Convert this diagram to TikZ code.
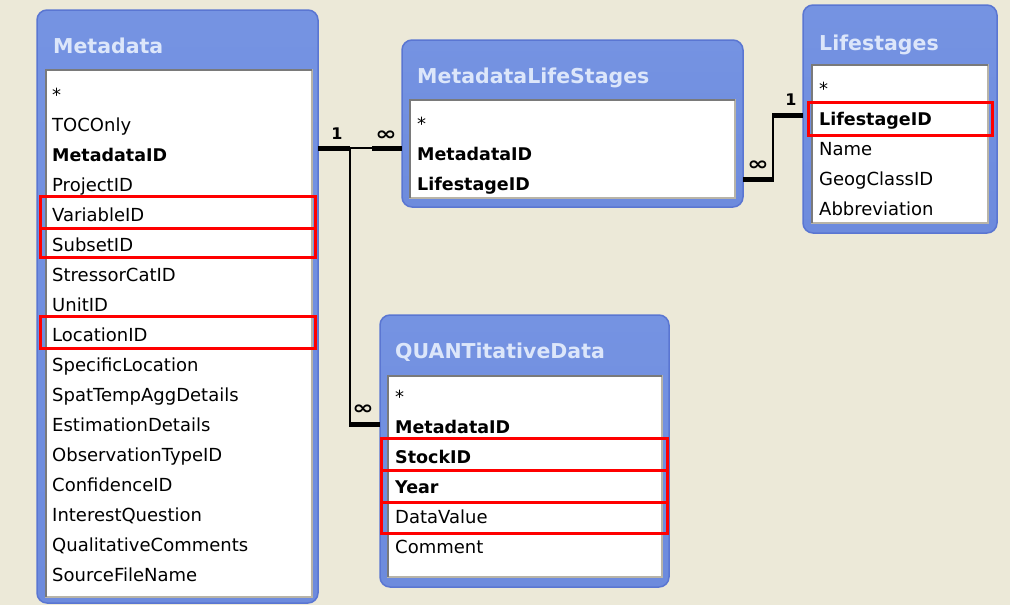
\documentclass[tikz,border=0pt]{standalone}
\usepackage{fontspec}
\setmainfont{DejaVu Sans}
\definecolor{bgcol}{HTML}{ECE9D8}
\definecolor{frametop}{HTML}{7593E2}
\definecolor{framebot}{HTML}{6D8BDD}
\definecolor{frameedge}{HTML}{5A76D2}
\definecolor{titletext}{HTML}{DCE6FA}
\definecolor{listedge}{HTML}{B8B4A8}
\definecolor{insetdark}{HTML}{7A7A7A}
\definecolor{hlred}{HTML}{FF0000}
\newcommand{\manysym}{\scalebox{1.35}[1]{∞}}
\begin{document}
\begin{tikzpicture}[x=1pt,y=-1pt,
 frame/.style={draw=frameedge, line width=1.5, rounded corners=10, top color=frametop, bottom color=framebot, anchor=north west, inner sep=0, outer sep=0},
 listbox/.style={draw=listedge, line width=1.2, fill=white, anchor=north west, inner sep=0, outer sep=0},
 ttl/.style={font=\fontsize{20.5}{20.5}\selectfont\bfseries, text=titletext, anchor=base west, inner sep=0},
 fld/.style={font=\fontsize{18}{18}\selectfont, anchor=base west, inner sep=0, text=black},
 key/.style={fld, font=\fontsize{17.5}{18}\selectfont\bfseries},
 hl/.style={draw=hlred, line width=3, anchor=north west, inner sep=0, outer sep=0},
 thin/.style={line width=2, draw=black},
 thk/.style={line width=5, draw=black},
 card/.style={font=\fontsize{16}{16}\selectfont\bfseries, inner sep=0},
 many/.style={font=\fontsize{19}{19}\selectfont\bfseries, inner sep=0}]
\fill[bgcol] (0,0) rectangle (1010,605);
\useasboundingbox (0,0) rectangle (1010,605);

% ---------- Metadata ----------
\node[frame, minimum width=281, minimum height=593] (md) at (37,10) {};
\node[listbox, minimum width=266, minimum height=527] (mdL) at (46,70) {};
\draw[insetdark, line width=2] (mdL.south west) -- (mdL.north west) -- (mdL.north east);
\node[ttl] (mdT) at (53,53) {Metadata};
\foreach \t [count=\i from 0] in {*,TOCOnly,,ProjectID,VariableID,SubsetID,StressorCatID,UnitID,LocationID,SpecificLocation,SpatTempAggDetails,EstimationDetails,ObservationTypeID,ConfidenceID,InterestQuestion,QualitativeComments,SourceFileName}
  \node[fld] (mdf\i) at (52,101+30*\i) {\t};
\node[key] (mdkey) at (52,161) {MetadataID};
\node[hl, minimum width=275, minimum height=32] (mdh1) at (40,196) {};
\node[hl, minimum width=275, minimum height=29] (mdh2) at (40,228) {};
\node[hl, minimum width=275, minimum height=32] (mdh3) at (40,316) {};

% ---------- MetadataLifeStages ----------
\node[frame, minimum width=341, minimum height=167] (mls) at (402,40) {};
\node[listbox, minimum width=325, minimum height=98] (mlsL) at (410,100) {};
\draw[insetdark, line width=2] (mlsL.south west) -- (mlsL.north west) -- (mlsL.north east);
\node[ttl] (mlsT) at (417,83) {MetadataLifeStages};
\node[fld] (mlsf0) at (417,130) {*};
\node[key] (mlsf1) at (417,160) {MetadataID};
\node[key] (mlsf2) at (417,190) {LifestageID};

% ---------- Lifestages ----------
\node[frame, minimum width=194, minimum height=228] (ls) at (803,5) {};
\node[listbox, minimum width=176, minimum height=158] (lsL) at (812,65) {};
\draw[insetdark, line width=2] (lsL.south west) -- (lsL.north west) -- (lsL.north east);
\node[ttl] (lsT) at (819,50) {Lifestages};
\node[fld] (lsf0) at (819,95) {*};
\node[key] (lsf1) at (819,125) {LifestageID};
\node[fld] (lsf2) at (819,155) {Name};
\node[fld] (lsf3) at (819,185) {GeogClassID};
\node[fld] (lsf4) at (819,215) {Abbreviation};
\node[hl, minimum width=184, minimum height=33] (lsh1) at (808,102) {};

% ---------- QUANTitativeData ----------
\node[frame, minimum width=289, minimum height=272] (qd) at (380,315) {};
\node[listbox, minimum width=274, minimum height=201] (qdL) at (388,376) {};
\draw[insetdark, line width=2] (qdL.south west) -- (qdL.north west) -- (qdL.north east);
\node[ttl] (qdT) at (395,358) {QUANTitativeData};
\node[fld] (qdf0) at (395,403) {*};
\node[key] (qdf1) at (395,433) {MetadataID};
\node[key] (qdf2) at (395,463) {StockID};
\node[key] (qdf3) at (395,493) {Year};
\node[fld] (qdf4) at (395,523) {DataValue};
\node[fld] (qdf5) at (395,553) {Comment};
\node[hl, minimum width=286, minimum height=32] (qdh1) at (381,438) {};
\node[hl, minimum width=286, minimum height=32] (qdh2) at (381,470) {};
\node[hl, minimum width=286, minimum height=31] (qdh3) at (381,502) {};

% ---------- relationships ----------
\coordinate (j1) at (350,148);
\coordinate (j2) at (350,424);
\draw[thin] (md.east |- j1) -- (mls.west |- j1);
\draw[thk] (md.east |- j1) -- (j1);
\draw[thk] (mls.west |- j1) -- ++(-30,0);
\draw[thin] (j1) -- (j2);
\draw[thk] ([xshift=-1pt]j2) -- (qd.west |- j2);
\node[card] (c1) at (337,134) {1};
\node[many] (c2) at (386,136) {\manysym};
\node[many] (c3) at (363,410) {\manysym};

\coordinate (j3) at (773,179);
\coordinate (j4) at (773,115);
\draw[thin] (j3) -- (j4);
\draw[thk] (mls.east |- j3) -- ([xshift=1pt]j3);
\draw[thk] ([xshift=-1pt]j4) -- (ls.west |- j4);
\node[many] (c4) at (758,166) {\manysym};
\node[card] (c5) at (791,100) {1};
\end{tikzpicture}
\end{document}
